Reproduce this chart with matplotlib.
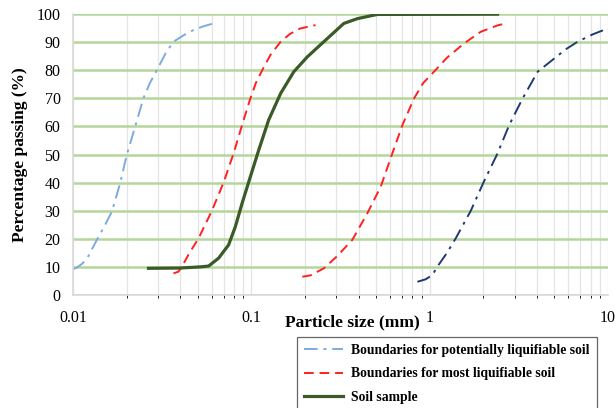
import matplotlib.pyplot as plt

plt.rcParams['font.family'] = ['Liberation Serif', 'DejaVu Serif']

# lower boundary, potentially liquifiable soil
pot_lo_x = [0.0100, 0.0104, 0.0112, 0.0120, 0.0136, 0.0150, 0.0165, 0.0184, 0.0200, 0.0223, 0.0248, 0.0270,
            0.0295, 0.0330, 0.0366, 0.0420, 0.0472, 0.0540, 0.0614]
pot_lo_y = [9.3, 9.6, 11.0, 13.0, 19.6, 24.5, 29.6, 39.9, 49.8, 59.9, 70.0, 75.5,
            80.0, 86.0, 90.2, 92.6, 94.3, 95.7, 96.7]

# upper boundary, potentially liquifiable soil
pot_hi_x = [0.853, 0.95, 1.035, 1.104, 1.25, 1.40, 1.70, 2.00, 2.40, 2.79, 3.32, 4.03, 4.99, 5.80, 6.76, 8.20, 9.95]
pot_hi_y = [4.7, 5.6, 7.1, 10.1, 15.0, 20.2, 30.0, 40.0, 50.4, 60.5, 70.0, 79.5, 84.2, 87.5, 90.2, 92.8, 94.9]

# lower boundary, most liquifiable soil
most_lo_x = [0.0366, 0.0390, 0.0408, 0.0450, 0.0506, 0.0601, 0.0698, 0.0795, 0.0887, 0.0987, 0.106, 0.115,
             0.128, 0.146, 0.165, 0.188, 0.229]
most_lo_y = [7.7, 8.3, 10.1, 15.0, 20.2, 30.0, 40.0, 50.4, 60.5, 70.0, 75.5, 80.0,
             85.5, 90.2, 93.0, 94.9, 96.1]

# upper boundary, most liquifiable soil
most_hi_x = [0.193, 0.215, 0.255, 0.300, 0.368, 0.447, 0.531, 0.617, 0.703, 0.817, 0.920, 1.057, 1.25,
             1.56, 1.93, 2.40, 2.67]
most_hi_y = [6.5, 7.0, 9.5, 13.6, 19.6, 29.1, 38.5, 50.4, 60.5, 70.0, 75.5, 79.5, 84.5,
             89.6, 93.7, 96.0, 96.7]

# soil sample grading curve
soil_x = [0.0265, 0.0399, 0.0517, 0.0576, 0.0655, 0.0745, 0.0813, 0.0887, 0.0987, 0.110, 0.125, 0.146,
          0.173, 0.206, 0.255, 0.330, 0.393, 0.508, 2.40]
soil_y = [9.5, 9.6, 10.0, 10.3, 13.1, 17.8, 24.3, 32.6, 42.1, 51.6, 62.3, 71.8,
          79.5, 84.8, 90.2, 96.7, 98.4, 99.9, 100.0]

fig = plt.figure(figsize=(6.15, 4.08), dpi=100)
ax = fig.add_axes([0.1187, 0.277, 0.87, 0.6883])

dashdot = (0, (7, 3, 1.5, 3))
ax.plot(pot_lo_x, pot_lo_y, color='#7faadf', lw=1.4, linestyle=dashdot,
        label='Boundaries for potentially liquifiable soil')
ax.plot(pot_hi_x, pot_hi_y, color='#1f3a6e', lw=1.4, linestyle=dashdot)
ax.plot(most_lo_x, most_lo_y, color='#ff2020', lw=1.4, linestyle=(0, (5, 3)),
        label='Boundaries for most liquifiable soil')
ax.plot(most_hi_x, most_hi_y, color='#ff2020', lw=1.4, linestyle=(0, (5, 3)))
ax.plot(soil_x, soil_y, color='#3a5a28', lw=2.3, solid_joinstyle='round',
        label='Soil sample')

ax.set_xscale('log')
ax.set_xlim(0.01, 10)
ax.set_ylim(0, 100)
ax.set_yticks(range(0, 101, 10))
ax.set_xticks([0.01, 0.1, 1, 10])
ax.set_xticklabels(['0.01', '0.1', '1', '10'])
ax.tick_params(axis='both', labelsize=11.5, length=0, colors='black')
ax.tick_params(axis='x', pad=11)
ax.tick_params(axis='y', pad=9)

ax.grid(axis='y', color='#b4d69c', lw=1.8)
ax.grid(axis='x', which='both', color='#e4e4e4', lw=0.9)
ax.set_axisbelow(True)
for side in ['top', 'right']:
    ax.spines[side].set_visible(False)
for side in ['left', 'bottom']:
    ax.spines[side].set_color('#d9d9d9')
    ax.spines[side].set_linewidth(1.2)

ax.set_ylabel('Percentage passing (%)', fontsize=12.5, fontweight='bold', labelpad=6)
ax.set_xlabel('Particle size (mm)', fontsize=12.5, fontweight='bold')
ax.xaxis.set_label_coords(0.523, -0.096)
ax.xaxis.label.set_verticalalignment('center')

leg = fig.legend(loc='upper left', bbox_to_anchor=(0.483, 0.174), borderaxespad=0,
                 prop={'weight': 'bold', 'size': 9.8}, frameon=True, fancybox=False,
                 handlelength=2.9, borderpad=0.5, labelspacing=0.78, handletextpad=0.6)
leg.get_frame().set_edgecolor('#404040')
leg.get_frame().set_linewidth(0.9)

fig.savefig('out.png', dpi=100)
